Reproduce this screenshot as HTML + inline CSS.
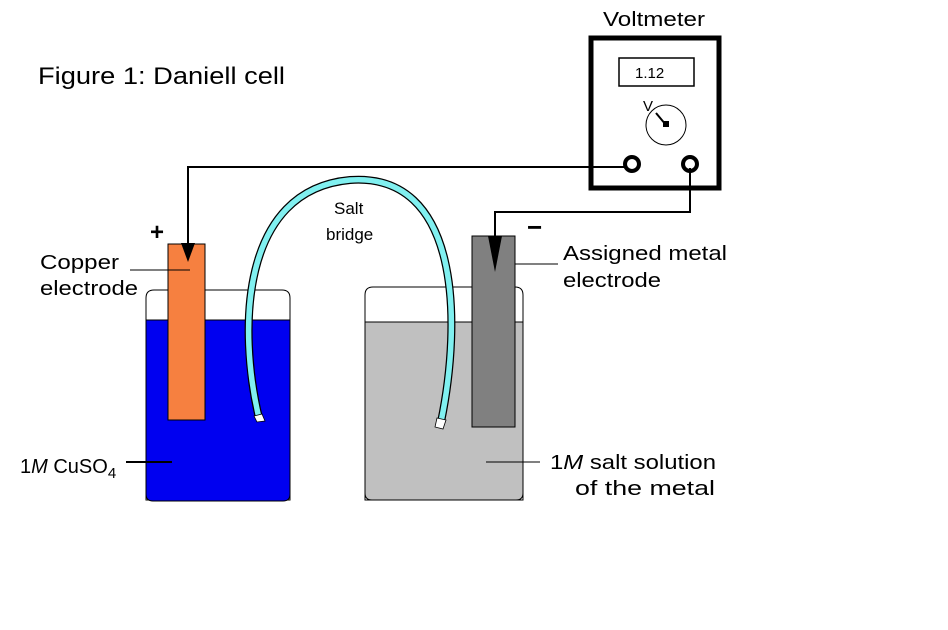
<!DOCTYPE html>
<html><head><style>html,body{margin:0;padding:0;background:#fff}svg{display:block}</style></head>
<body>
<svg width="948" height="630" viewBox="0 0 948 630" xmlns="http://www.w3.org/2000/svg" font-family="Liberation Sans, Arial, sans-serif">
<rect width="948" height="630" fill="#fff"/>
<text x="38" y="84" font-size="24" textLength="247" lengthAdjust="spacingAndGlyphs">Figure 1: Daniell cell</text>
<text x="603" y="26" font-size="20" textLength="102" lengthAdjust="spacingAndGlyphs">Voltmeter</text>
<!-- voltmeter -->
<rect x="591" y="38" width="128" height="150" fill="#fff" stroke="#000" stroke-width="5"/>
<rect x="619" y="58" width="75" height="28" fill="#fff" stroke="#000" stroke-width="1.5"/>
<text x="635" y="78" font-size="15">1.12</text>
<circle cx="666" cy="125" r="20" fill="none" stroke="#000" stroke-width="1"/>
<text x="643" y="111" font-size="15">V</text>
<line x1="656" y1="113" x2="666" y2="125" stroke="#000" stroke-width="2"/>
<rect x="663" y="121" width="6" height="6" fill="#000"/>
<circle cx="632" cy="164" r="7" fill="#fff" stroke="#000" stroke-width="4"/>
<circle cx="690" cy="164" r="7" fill="#fff" stroke="#000" stroke-width="4"/>
<!-- wires -->
<polyline points="625,167 188,167 188,250" fill="none" stroke="#000" stroke-width="2"/>
<polyline points="690,168 690,212 495,212 495,240" fill="none" stroke="#000" stroke-width="2"/>
<!-- left beaker -->
<path d="M146,500 L146,298 Q146,290 154,290 L282,290 Q290,290 290,298 L290,500 Z" fill="#fff" stroke="#000" stroke-width="1"/>
<path d="M146,320 L290,320 L290,494 Q290,501 283,501 L153,501 Q146,501 146,494 Z" fill="#0000f0" stroke="#000" stroke-width="1"/>
<rect x="168" y="244" width="37" height="176" fill="#f68040" stroke="#000" stroke-width="1"/>
<polygon points="181,243 195,243 188,262" fill="#000"/>
<!-- right beaker -->
<path d="M365,500 L365,295 Q365,287 373,287 L515,287 Q523,287 523,295 L523,500 Z" fill="#fff" stroke="#000" stroke-width="1"/>
<path d="M365,322 L523,322 L523,493 Q523,500 516,500 L372,500 Q365,500 365,493 Z" fill="#c0c0c0" stroke="#000" stroke-width="1"/>
<rect x="472" y="236" width="43" height="191" fill="#808080" stroke="#000" stroke-width="1"/>
<polygon points="488,236 502,236 495,272" fill="#000"/>
<!-- salt bridge -->
<path d="M259,418 C238,330 240,190 350,180 C460,172 462,320 441,422" fill="none" stroke="#000" stroke-width="8"/>
<path d="M259,418 C238,330 240,190 350,180 C460,172 462,320 441,422" fill="none" stroke="#80f0f0" stroke-width="5.5"/>
<polygon points="254,416 262,414 265,421 257,422" fill="#fff" stroke="#000" stroke-width="0.8"/>
<polygon points="437,418 446,420 443,429 435,427" fill="#fff" stroke="#000" stroke-width="0.8"/>
<text x="334" y="214" font-size="17">Salt</text>
<text x="326" y="240" font-size="17">bridge</text>
<!-- labels -->
<text x="150" y="240" font-size="24" font-weight="bold">+</text>
<text x="527" y="236" font-size="26" font-weight="bold">−</text>
<text x="40" y="269" font-size="20" textLength="79" lengthAdjust="spacingAndGlyphs">Copper</text>
<text x="40" y="295" font-size="20" textLength="98" lengthAdjust="spacingAndGlyphs">electrode</text>
<line x1="130" y1="270" x2="190" y2="270" stroke="#000" stroke-width="1"/>
<text x="563" y="260" font-size="20" textLength="164" lengthAdjust="spacingAndGlyphs">Assigned metal</text>
<text x="563" y="287" font-size="20" textLength="98" lengthAdjust="spacingAndGlyphs">electrode</text>
<line x1="515" y1="264" x2="558" y2="264" stroke="#000" stroke-width="1"/>
<text x="20" y="473" font-size="20">1<tspan font-style="italic">M</tspan> CuSO<tspan font-size="15" dy="5">4</tspan></text>
<line x1="126" y1="462" x2="172" y2="462" stroke="#000" stroke-width="2"/>
<text x="550" y="469" font-size="20" textLength="166" lengthAdjust="spacingAndGlyphs">1<tspan font-style="italic">M</tspan> salt solution</text>
<text x="575" y="495" font-size="20" textLength="140" lengthAdjust="spacingAndGlyphs">of the metal</text>
<line x1="486" y1="462" x2="540" y2="462" stroke="#000" stroke-width="1"/>
</svg>
</body></html>
